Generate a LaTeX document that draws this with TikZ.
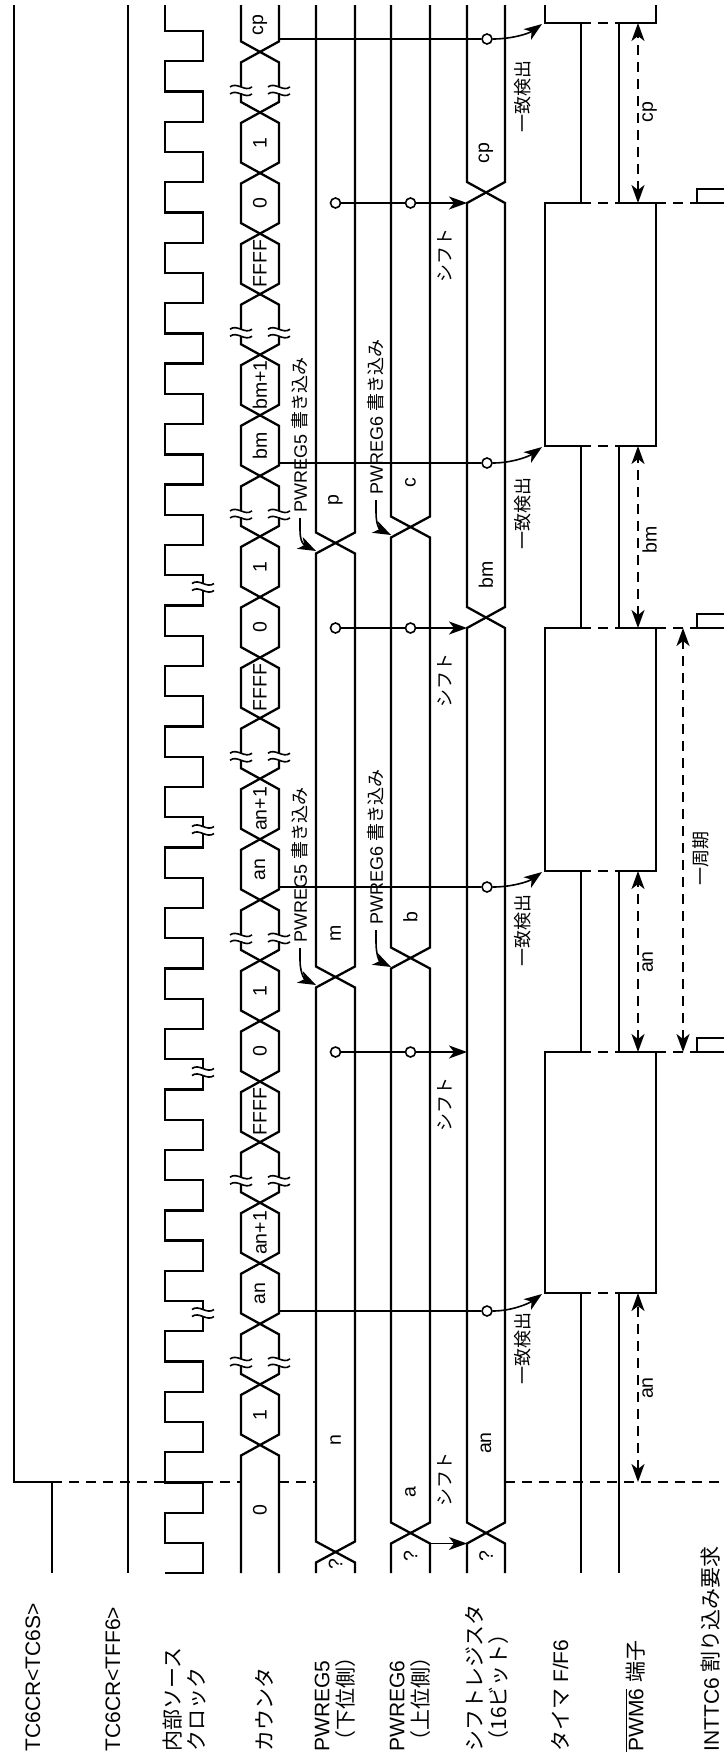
\documentclass[tikz,border=0pt]{standalone}
\usepackage{fontspec}
\setmainfont{Liberation Sans}
\newfontfamily\jp{Noto Sans CJK JP}
\usetikzlibrary{arrows.meta}

\begin{document}
\begin{tikzpicture}[
  x=0.5pt, y=-0.5pt,
  sig/.style={line width=1.15pt},
  wire/.style={line width=0.8pt},
  dsh/.style={line width=0.9pt, dash pattern=on 5pt off 3.5pt},
  arr/.style={wire, -{Stealth[length=9pt, width=6.5pt, inset=2.5pt]}},
  dimarr/.style={dsh, {Stealth[length=9pt, width=6.5pt, inset=2.5pt]}-{Stealth[length=9pt, width=6.5pt, inset=2.5pt]}},
  dot/.style={circle, draw, wire, fill=white, inner sep=0pt, minimum size=5pt},
  lbl/.style={rotate=90, anchor=west, align=left, inner sep=0pt, font=\fontsize{10.5}{12}\selectfont},
  val/.style={rotate=90, inner sep=0pt, font=\fontsize{9.75}{11}\selectfont},
  note/.style={rotate=90, anchor=west, inner sep=0pt, font=\fontsize{9}{10}\selectfont},
  brkmark/.pic={
    \fill[white] (-3,-3) rectangle (3,3);
    \draw[wire] (-11,-3.5) .. controls (-4,-9) and (4,2) .. (11,-3.5);
    \draw[wire] (-11,3.5) .. controls (-4,-2) and (4,9) .. (11,3.5);
  }
]
\useasboundingbox (0,0) rectangle (724,1757);

% ---- start line ----
\foreach \xa/\xb in {52/165, 203/241, 279/316, 505/724}
  \draw[dsh] (\xa,1482) -- (\xb,1482);

% ---- TC6CR<TC6S>, TC6CR<TFF6> ----
\draw[sig] (14,5) -- (14,1482) -- (52,1482) -- (52,1573);
\draw[sig] (128,5) -- (128,1573);

% ---- source clock ----
\draw[sig] (165,5) \foreach \j in {0,...,51}{
  -- ({165+38*isodd(\j)},{31+30.24*\j}) -- ({203-38*isodd(\j)},{31+30.24*\j}) };
\foreach \y in {587,830,1072,1313} \pic at (203,\y) {brkmark};

% ---- counter ----
\foreach \k in {0,...,22}{
  \pgfmathsetmacro\ya{1445-60.57*\k}
  \pgfmathsetmacro\yb{1445-60.57*(\k+1)}
  \draw[sig] (260,\ya) -- (241,{\ya-10.5}) -- (241,{\yb+10.5}) -- (260,\yb)
    -- (279,{\yb+10.5}) -- (279,{\ya-10.5}) -- cycle;
}
\foreach \k/\v in {0/1, 2/an, 3/an+1, 5/FFFF, 6/0, 7/1, 9/an, 10/an+1, 12/FFFF,
                   13/0, 14/1, 16/bm, 17/bm+1, 19/FFFF, 20/0, 21/1}
  \node[val] (cnt\k) at (260,{1445-60.57*(\k+0.5)}) {\v};
\node[val] (cntst) at (260,1510) {0};
\node[val] (cntcp) at (260,25) {cp};
\foreach \k in {1,4,8,11,15,18,22}{
  \pic at (241,{1445-60.57*\k-22}) {brkmark};
  \pic at (279,{1445-60.57*\k-22}) {brkmark};
}

% ---- PWREG5, PWREG6, shift register ----
\foreach \xl/\xr/\ya/\yb in {316/355/1552/977, 316/355/977/543, 391/430/1533/958,
                             391/430/958/527, 467/505/1533/617.5, 467/505/617.5/192.5}
  \draw[sig] ({(\xl+\xr)/2},\ya) -- (\xl,{\ya-10.5}) -- (\xl,{\yb+10.5}) -- ({(\xl+\xr)/2},\yb)
    -- (\xr,{\yb+10.5}) -- (\xr,{\ya-10.5}) -- cycle;
% open ends
\foreach \xl/\xr/\ya in {241/279/1445, 316/355/1552, 391/430/1533, 467/505/1533}
  \draw[sig] (\xl,1573) -- (\xl,{\ya+10.5}) -- ({(\xl+\xr)/2},\ya) -- (\xr,{\ya+10.5}) -- (\xr,1573);
\foreach \xl/\xr/\yb in {241/279/51.9, 316/355/543, 391/430/527, 467/505/192.5}
  \draw[sig] (\xl,5) -- (\xl,{\yb-10.5}) -- ({(\xl+\xr)/2},\yb) -- (\xr,{\yb-10.5}) -- (\xr,5);

\foreach \n/\x/\y/\v in {q5/335.5/1564/?, n/335.5/1440/n, m/335.5/933/m, p/335.5/500/p,
                         q6/410.5/1556/?, a/410.5/1492/a, b/410.5/917/b, c/410.5/483/c,
                         qs/486/1556/?, s1/486/1443/an, s2/486/575/bm, s3/486/153/cp}
  \node[val] (v\n) at (\x,\y) {\v};

% ---- timer F/F6 and PWM6 ----
\draw[sig] (581,1573) -- (581,1293) -- (545,1293) -- (545,1052) -- (581,1052) -- (581,871)
  -- (545,871) -- (545,628) -- (581,628) -- (581,446) -- (545,446) -- (545,203)
  -- (581,203) -- (581,23) -- (545,23) -- (545,5);
\draw[sig] (619,1573) -- (619,1293) -- (656,1293) -- (656,1052) -- (619,1052) -- (619,871)
  -- (656,871) -- (656,628) -- (619,628) -- (619,446) -- (656,446) -- (656,203)
  -- (619,203) -- (619,23) -- (656,23) -- (656,5);
\foreach \y in {1293,1052,871,628,446,203,23}
  \draw[dsh] (581,\y) -- (619,\y);

% ---- INTTC6 ----
\foreach \y in {1052,628,203}{
  \draw[dsh] (656,\y) -- (697,\y);
  \draw[sig] (724,\y) -- (697,\y) -- (697,{\y-14}) -- (724,{\y-14});
}

% ---- shift arrows ----
\coordinate (pw6e) at (430,1543.5);
\coordinate (sr0) at (467,1543.5);
\draw[arr] (pw6e) -- (sr0);
\node[note] (sh0) at (445,1507) {\jp シフト};
\foreach \n/\y in {1/1052, 2/628, 3/203}{
  \node[dot] (pa\n) at (335.5,\y) {};
  \node[dot] (pb\n) at (410.5,\y) {};
  \coordinate (sr\n) at (467,\y);
  \draw[arr] (pa\n) -- (pb\n) -- (sr\n);
  \node[note] (sh\n) at (445,{\y+80}) {\jp シフト};
}

% ---- match detection ----
\foreach \n/\ym/\ye/\yt in {1/1311/1293/1385, 2/887/871/967, 3/463/446/550, 4/39/23/133}{
  \coordinate (cm\n) at (279,\ym);
  \node[dot] (md\n) at (487,\ym) {};
  \coordinate (ff\n) at (542,{\ye+1});
  \draw[wire] (cm\n) -- (md\n);
  \draw[arr] (md\n.east) .. controls +(18,0) and +(-14,10) .. (ff\n);
  \node[note] (mt\n) at (523,\yt) {\jp 一致検出};
}

% ---- register writes ----
\foreach \n/\r/\xt/\ys/\xb/\ye in {1/5/300/943/316/985, 2/5/300/513/316/551,
                                   3/6/376/925/391/967, 4/6/376/495/391/535}{
  \node[note] (wr\n) at (\xt,\ys) {PWREG\r\ {\jp 書き込み}};
  \coordinate (wt\n) at (\xb,\ye);
  \draw[arr] (wr\n.west) ++(0,5) -- ++(0,12) .. controls +(0,12) and +(-12,-6) .. (wt\n);
}

% ---- widths and period ----
\foreach \n/\ya/\yb/\v/\yl in {1/1482/1293/an/1388, 2/1052/871/an/962,
                               3/628/446/bm/540, 4/203/23/cp/112}{
  \coordinate (da\n) at (638,\ya);
  \coordinate (db\n) at (638,\yb);
  \draw[dimarr] (da\n) -- (db\n);
  \node[val, anchor=north] (dl\n) at (642,\yl) {\v};
}
\coordinate (pera) at (683,1052);
\coordinate (perb) at (683,628);
\draw[dimarr] (pera) -- (perb);
\node[note, anchor=north] (perl) at (692,858) {\jp 一周期};

% ---- signal names ----
\node[lbl] (lTCS) at (33,1752) {TC6CR<TC6S>};
\node[lbl] (lTFF) at (113,1752) {TC6CR<TFF6>};
\node[lbl] (lclk) at (184,1752) {{\jp 内部ソース}\\{\jp クロック}};
\node[lbl] (lcnt) at (264,1752) {\jp カウンタ};
\node[lbl] (lpw5) at (335,1752) {PWREG5\\{\jp （下位側）}};
\node[lbl] (lpw6) at (410,1752) {PWREG6\\{\jp （上位側）}};
\node[lbl] (lsr) at (487,1752) {{\jp シフトレジスタ}\\{\jp （16ビット）}};
\node[lbl] (lff) at (560,1752) {{\jp タイマ} F/F6};
\node[lbl] (lpwm) at (635,1752) {$\overline{\mbox{PWM6}}$ {\jp 端子}};
\node[lbl] (lint) at (711,1752) {INTTC6 {\jp 割り込み要求}};
\end{tikzpicture}
\end{document}
